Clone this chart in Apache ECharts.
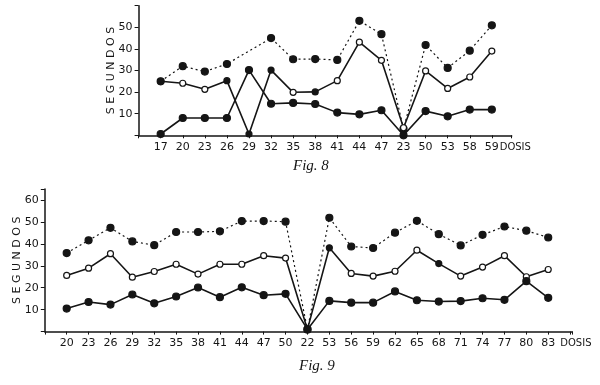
<!DOCTYPE html>
<html>
<head>
<meta charset="utf-8">
<script src="https://cdn.jsdelivr.net/npm/echarts@6/dist/echarts.min.js"></script>
<style>
    html, body { margin: 0; background: #fff; }
    #chart { width: 600px; height: 385px; }
</style>
</head>
<body>
<div id="chart"></div>
<script>
    // Fig. 8
    const dosis8 = ['17', '20', '23', '26', '29', '32', '35', '38', '41', '44', '47', '23', '50', '53', '58', '59'];
    const top8 = [25, 32, 29.5, 33, null, 45, 35.2, 35.3, 34.9, 53, 46.8, 3, 41.8, 31.2, 39.2, 50.9];
    const mid8 = [25, 24.1, 21.3, 25.3, 0.6, 30.2, 19.9, 20.1, 25.3, 43.1, 34.7, 3.5, 29.8, 21.7, 27, 39];
    const low8 = [0.6, 8, 8, 8, 30.2, 14.6, 15, 14.5, 10.5, 9.7, 11.6, 0, 11.2, 8.8, 11.9, 11.9];
    const midFilled8 = [0, 3, 4, 5, 7];
    const yTicks8 = [10, 20, 30, 40, 50];

    // Fig. 9
    const dosis9 = ['20', '23', '26', '29', '32', '35', '38', '41', '44', '47', '50', '22', '53', '56', '59', '62', '65', '68', '71', '74', '77', '80', '83'];
    const top9 = [35.8, 41.6, 47.3, 41.1, 39.4, 45.4, 45.4, 45.7, 50.4, 50.4, 50.1, 1, 51.9, 38.8, 38.1, 45.1, 50.5, 44.4, 39.3, 44.1, 47.9, 46, 42.9];
    const mid9 = [25.6, 28.9, 35.5, 24.8, 27.4, 30.7, 26.2, 30.7, 30.7, 34.6, 33.5, 1, 38.2, 26.5, 25.3, 27.5, 37.1, 31, 25.3, 29.4, 34.6, 25, 28.3];
    const low9 = [10.5, 13.5, 12.3, 16.9, 12.9, 16, 20.1, 15.7, 20.2, 16.6, 17.2, 1, 14, 13.2, 13.2, 18.3, 14.3, 13.7, 13.9, 15.2, 14.5, 23, 15.4];
    const midFilled9 = [11, 12, 17];
    const yTicks9 = [10, 20, 30, 40, 50, 60];

    const ink = '#151515';
    const sans = '"DejaVu Sans", sans-serif';

    function pts(vals) {
        return vals.map((v, i) => [i, v]);
    }

    // open circles, except the few drawn filled in the print
    function midPts(vals, filled) {
        return vals.map((v, i) => filled.includes(i) ? { value: [i, v], itemStyle: { color: ink } } : [i, v]);
    }

    function xAxis(gridIndex, cats, max) {
        return {
            type: 'value',
            gridIndex: gridIndex,
            min: -1,
            max: max,
            interval: 1,
            axisLine: { onZero: false, lineStyle: { color: ink, width: 1.5 } },
            axisTick: { length: 3, lineStyle: { color: ink, width: 1 } },
            axisLabel: {
                color: ink,
                fontSize: 11,
                fontFamily: sans,
                margin: 6,
                formatter: v => cats[v] !== undefined ? cats[v] : ''
            },
            splitLine: { show: false },
            name: 'DOSIS',
            nameLocation: 'end',
            nameGap: -12,
            nameMoveOverlap: false,
            nameTextStyle: {
                color: ink,
                fontSize: 10,
                fontFamily: sans,
                align: 'left',
                verticalAlign: 'top',
                padding: [7, 0, 0, 0]
            }
        }
    }

    function yAxis(gridIndex, max, ticks) {
        return {
            type: 'value',
            gridIndex: gridIndex,
            min: 0,
            max: max,
            interval: 10,
            axisLine: { show: true, onZero: false, lineStyle: { color: ink, width: 1.5 } },
            axisTick: { show: true, length: 4, lineStyle: { color: ink, width: 1 } },
            axisLabel: {
                color: ink,
                fontSize: 11,
                fontFamily: sans,
                margin: 6,
                formatter: v => ticks.includes(v) ? String(v) : ''
            },
            splitLine: { show: false },
            name: 'S E G U N D O S',
            nameLocation: 'middle',
            nameRotate: 90,
            nameGap: 22,
            nameMoveOverlap: false,
            nameTextStyle: { color: ink, fontSize: 11, fontFamily: sans }
        }
    }

    function line(axis, data, dotted, open) {
        return {
            type: 'line',
            xAxisIndex: axis,
            yAxisIndex: axis,
            data: data,
            connectNulls: true,
            symbol: 'circle',
            symbolSize: open ? 6 : 7,
            lineStyle: { color: ink, width: dotted ? 1.2 : 1.6, type: dotted ? [2, 3] : 'solid' },
            itemStyle: { color: open ? '#fff' : ink, borderColor: ink, borderWidth: 1.2 },
            silent: true
        }
    }

    let option = {
        backgroundColor: '#fff',
        animation: false,
        grid: [
            { left: 138.6, top: 5.7, width: 373.1, height: 129.6 },
            { left: 44.8, top: 189, width: 527.5, height: 142.6 }
        ],
        xAxis: [xAxis(0, dosis8, 15.9), xAxis(1, dosis9, 23.1)],
        yAxis: [yAxis(0, 60, yTicks8), yAxis(1, 65, yTicks9)],
        series: [
            line(0, pts(top8), true, false),
            line(0, midPts(mid8, midFilled8), false, true),
            line(0, pts(low8), false, false),
            line(1, pts(top9), true, false),
            line(1, midPts(mid9, midFilled9), false, true),
            line(1, pts(low9), false, false)
        ],
        graphic: [
            { type: 'text', left: 293, top: 159, style: { text: 'Fig. 8', font: 'italic 15px "Liberation Serif", serif', fill: ink } },
            { type: 'text', left: 299, top: 359, style: { text: 'Fig. 9', font: 'italic 15px "Liberation Serif", serif', fill: ink } }
        ]
    };

    var chart = echarts.init(document.getElementById('chart'));
    chart.setOption(option);
</script>
</body>
</html>
